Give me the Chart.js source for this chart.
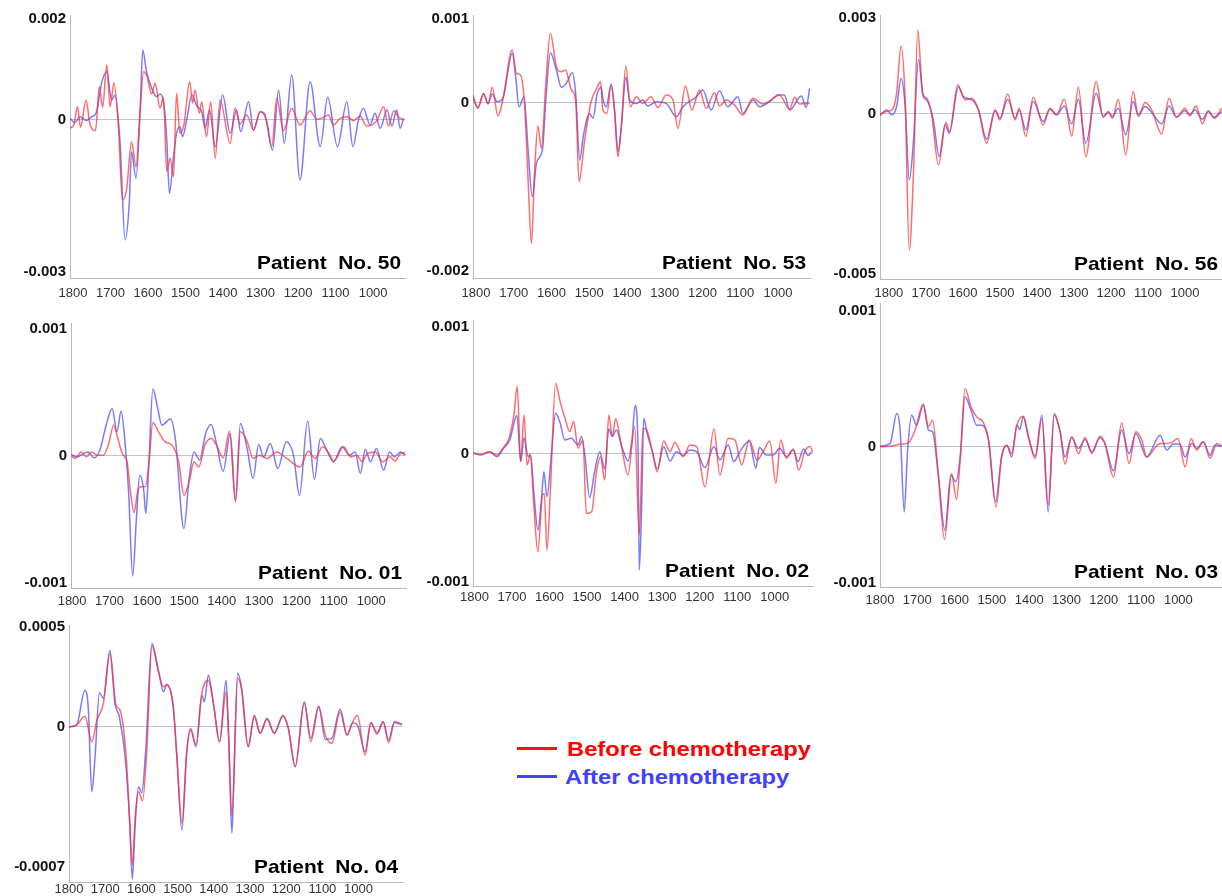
<!DOCTYPE html>
<html>
<head>
<meta charset="utf-8">
<script src="https://cdn.jsdelivr.net/npm/chart.js@4.4.1/dist/chart.umd.min.js"></script>
<style>
  body { margin: 0; width: 1222px; height: 896px; overflow: hidden; position: relative; background: #fff;
         font-family: "Liberation Sans", Arial, sans-serif; }
  canvas { position: absolute; }
  .key-line { position: absolute; width: 40px; height: 3px; }
  .key-text { position: absolute; font-weight: bold; font-size: 21px; line-height: 24px; white-space: nowrap;
              transform: scaleX(1.13); transform-origin: 0 50%; }
</style>
</head>
<body>
<div class="key-line" style="left:517px;top:747px;background:#ff1010"></div>
<div class="key-text" style="left:567px;top:737px;color:#ff0000">Before chemotherapy</div>
<div class="key-line" style="left:517px;top:775px;background:#4444ff"></div>
<div class="key-text" style="left:565px;top:765px;color:#4040ff">After chemotherapy</div>

<script>
// wavenumber tick labels (cm-1), shared by every panel
const waveTicks = [1800, 1700, 1600, 1500, 1400, 1300, 1200, 1100, 1000];

// y tick labels per panel
const no50YTicks = [0.002, 0, -0.003];
const no53YTicks = [0.001, 0, -0.002];
const no56YTicks = [0.003, 0, -0.005];
const no01YTicks = [0.001, 0, -0.001];
const no02YTicks = [0.001, 0, -0.001];
const no03YTicks = [0.001, 0, -0.001];
const no04YTicks = [0.0005, 0, -0.0007];

// ---- Patient No. 50 ----
const no50BeforeWn = [1808,1797,1788,1780,1765,1755,1740,1730,1721,1710,1701,1691,1679,1668,1657,1644,1632,1621,1612,1604,1590,1581,1568,1559,1550,1541,1532,1524,1515,1504,1489,1481,1475,1463,1457,1444,1433,1421,1408,1381,1368,1355,1337,1319,1301,1284,1270,1257,1239,1217,1195,1168,1150,1132,1119,1106,1088,1070,1052,1035,1017,990,972,959,945,932,917];
const no50Before = [-0.000165,-0.00008,0.000264,-0.000145,0.000396,-0.00008,-0.00021,0.00066,0.00025,0.001089,0.000264,0.00074,-0.000132,-0.001584,-0.00137,-0.000429,-0.000924,0.000198,0.000957,0.000891,0.000515,0.000726,0.000231,0.000449,-0.001023,-0.000759,-0.001122,0.000528,-0.000264,-0.00008,0.000759,0.00033,0.000594,0.000132,0.000363,-0.00033,0.000363,-0.000759,0.000396,-0.000462,0.000231,-0.00008,0.000099,-0.000198,0.000165,-0.000013,-0.000528,0.000429,-0.000211,0.000231,-0.000099,0.000185,0.000013,0.000053,0.000099,-0.000099,0.000033,0.000066,-0.000013,0.00008,-0.00012,-0.000013,0.000264,-0.00012,0.000185,0.000053,0];
const no50AfterWn = [1808,1795,1781,1765,1750,1737,1724,1710,1697,1688,1675,1661,1650,1644,1632,1621,1614,1604,1590,1577,1568,1557,1550,1543,1532,1524,1515,1508,1497,1483,1470,1457,1448,1436,1421,1401,1381,1364,1353,1332,1319,1301,1290,1268,1252,1237,1217,1195,1168,1141,1121,1095,1070,1054,1039,1026,1008,995,981,963,950,937,928,919];
const no50After = [0.000033,-0.00005,0.000066,-0.00001,0.000066,0.000165,0.000726,0.000957,0.000396,0.000495,-0.000396,-0.002376,-0.00165,-0.000627,-0.001155,0.000198,0.001386,0.000957,0.000627,0.000462,0.000515,0.000264,-0.000396,-0.001452,-0.000726,-0.000264,-0.000132,-0.00033,0,0.000495,0.000277,0.000165,-0.000165,0.000198,-0.000528,0.000495,-0.000264,0.000198,-0.000231,0.000363,-0.000198,0.000165,0.000132,-0.000594,0.000594,-0.000462,0.000891,-0.001188,0.000759,-0.000528,0.000449,-0.000528,0.000363,-0.000528,0,0.000231,-0.000099,0.000132,-0.000165,0.000198,-0.00012,0.000198,-0.000165,0.000033];

// ---- Patient No. 53 ----
const no53BeforeWn = [1808,1795,1780,1768,1757,1742,1729,1704,1693,1682,1671,1662,1653,1645,1636,1627,1615,1603,1587,1574,1563,1547,1536,1527,1512,1495,1479,1470,1464,1453,1442,1433,1424,1415,1403,1391,1375,1358,1336,1318,1296,1278,1265,1245,1228,1208,1190,1168,1155,1137,1115,1093,1066,1040,1018,996,969,956,943,930,916];
const no53Before = [0.000087,-0.000071,0.0001,-0.00002,0.000179,-0.000163,0.000028,0.000623,0.000345,0.000325,-0.000052,-0.000925,-0.001679,-0.000845,-0.000282,-0.000548,0.000226,0.000821,0.000425,0.000365,0.000385,0.000147,0.000028,-0.000944,-0.000448,0.000008,0.000179,0.000246,-0.000091,-0.000131,0.000218,-0.000091,-0.000647,-0.00029,0.000433,-0.000052,0.000067,-0.000012,0.000067,-0.00006,0.000087,0.000028,-0.00031,0.000194,-0.000091,0.000147,-0.000071,0.000115,-0.000044,0.000028,-0.000032,-0.000151,0.000048,-0.00002,0.000028,0.000087,-0.000083,0.00006,-0.00002,-0.000012,-0.000012];
const no53AfterWn = [1808,1795,1780,1768,1757,1744,1729,1704,1695,1686,1673,1662,1651,1640,1631,1623,1615,1603,1587,1574,1561,1545,1536,1525,1516,1499,1490,1479,1468,1464,1455,1442,1433,1424,1415,1403,1393,1375,1358,1345,1322,1296,1269,1252,1216,1199,1177,1155,1133,1106,1093,1066,1049,1022,1000,983,969,938,925,916];
const no53After = [0.000048,-0.00006,0.000107,-0.000012,0.0001,0.000008,0.000048,0.000583,0.000306,-0.000052,0.000067,-0.000567,-0.001123,-0.000726,-0.000647,-0.000528,0.000028,0.000591,0.000385,0.000179,0.000226,0.000353,0.000107,-0.000687,-0.000409,-0.000131,-0.00019,0.0001,0.000179,0.000048,-0.000052,0.000206,-0.000091,-0.000587,-0.00029,0.000298,0.000028,-0.000012,0.000028,-0.000044,0.000008,-0.000012,-0.000171,-0.000052,0.000067,0.000147,-0.000091,0.000139,-0.000052,0.000067,-0.000131,0.000028,-0.000052,0.000008,0.000087,0.000087,-0.000091,0.000075,-0.00006,0.000167];

// ---- Patient No. 56 ----
const no56BeforeWn = [1824,1806,1790,1779,1767,1756,1745,1733,1722,1709,1698,1685,1666,1646,1636,1614,1594,1576,1558,1536,1513,1500,1479,1459,1448,1430,1410,1383,1365,1347,1326,1306,1288,1268,1240,1221,1207,1196,1180,1160,1140,1126,1108,1090,1063,1043,1023,1000,987,970,953,937,921,901];
const no56Before = [0,0.000073,0.000146,0.000646,0.002125,0.00044,-0.00425,-0.001646,0.002625,0.000646,0.00049,0.00002,-0.001594,-0.00027,-0.000552,0.000906,0.00044,0.00049,0.000125,-0.000917,0.000104,-0.00019,0.000625,-0.00019,0.000177,-0.000708,0.00052,-0.000344,0.000177,-0.00003,0.000458,-0.000688,0.000833,-0.001333,0.00101,-0.000104,0.000042,-0.000135,0.000458,-0.00128,0.0007,-0.000083,0.000354,0.000125,-0.000625,0.00049,-0.000104,0.000177,-0.00006,0.00025,-0.00031,0.000094,-0.000135,0.000177];
const no56AfterWn = [1824,1806,1792,1779,1767,1756,1745,1734,1720,1707,1698,1680,1664,1648,1637,1612,1599,1576,1558,1536,1513,1500,1479,1459,1448,1430,1410,1383,1365,1347,1326,1306,1288,1268,1240,1221,1207,1196,1180,1160,1140,1126,1108,1090,1063,1043,1023,1000,987,973,953,937,921,901];
const no56After = [-0.00006,0.000125,-0.00003,0.00023,0.001115,0.00023,-0.00206,-0.00092,0.00169,0.00054,0.00044,-0.00019,-0.00133,-0.00034,-0.0006,0.00085,0.00054,0.00044,0.000125,-0.00079,0.000125,-0.000135,0.00046,-0.000135,0.000125,-0.0005,0.000385,-0.00024,0.000146,-0.00003,0.00025,-0.00031,0.00046,-0.00092,0.000646,-0.000083,0.000073,-0.000083,0.000177,-0.000656,0.000385,-0.00003,0.00023,0.000042,-0.00031,0.00025,-0.000104,0.000104,-0.00003,0.000125,-0.000167,0.000073,-0.000104,0.000073];

// ---- Patient No. 01 ----
const no01BeforeWn = [1803,1791,1776,1762,1749,1731,1716,1702,1689,1680,1666,1653,1644,1634,1625,1616,1604,1595,1584,1569,1551,1533,1515,1501,1487,1474,1461,1445,1428,1414,1396,1379,1363,1350,1332,1316,1299,1279,1253,1226,1190,1168,1150,1130,1110,1101,1074,1056,1038,1025,1011,989,969,949,936,922,909];
const no01Before = [0,-0.000021,0.000031,-0.000008,0.000031,0.000005,0.000005,0.000097,0.000241,0.000163,0.000018,-0.000047,-0.000283,-0.000446,-0.000283,-0.000244,-0.000244,-0.000073,0.000262,0.000189,0.00011,0.000084,-0.000047,-0.00031,-0.000205,-0.000047,-0.000087,0.000084,0.000136,0.000084,-0.000016,0.000194,-0.000362,0.000189,0.000115,-0.000021,0.000005,-0.000021,0.000031,-0.000021,-0.000087,0.000037,-0.000021,0.000071,0.000005,-0.000047,0.000071,-0.000008,0.000005,-0.000047,0.000018,0.000031,-0.000047,-0.000008,-0.000042,0.000018,0.000026];
const no01AfterWn = [1803,1787,1758,1741,1725,1709,1693,1680,1669,1658,1649,1638,1628,1619,1608,1603,1595,1584,1572,1560,1537,1524,1501,1487,1474,1459,1443,1428,1414,1396,1377,1363,1350,1332,1316,1301,1288,1270,1250,1227,1208,1192,1170,1152,1136,1123,1101,1078,1058,1043,1029,1016,1002,986,967,951,938,922,909];
const no01After = [0.00001,-0.000008,0.000031,-0.000016,0.000052,0.000241,0.000373,0.000189,0.000352,0.000084,-0.000283,-0.000945,-0.000493,-0.000152,-0.000283,-0.000454,-0.000073,0.000525,0.000386,0.000241,0.000289,0.000136,-0.000572,-0.000178,0.000031,-0.000034,0.000176,0.000247,0.000097,-0.000121,0.000176,-0.000357,0.000255,0.000058,-0.000178,0.000089,-0.000008,0.000097,-0.0001,0.00011,0.000005,-0.00031,0.000273,-0.000184,0.000136,0.000071,-0.000047,0.000071,0.000005,0.000031,-0.000139,0.000052,-0.000047,0.000058,-0.000113,0.000031,-0.000008,0.000031,0.000005];

// ---- Patient No. 02 ----
const no02BeforeWn = [1804,1782,1760,1740,1724,1708,1695,1686,1677,1668,1660,1651,1642,1631,1619,1614,1607,1598,1584,1573,1559,1546,1536,1524,1511,1502,1488,1475,1464,1453,1442,1433,1424,1409,1391,1373,1361,1351,1340,1328,1313,1296,1279,1266,1244,1226,1208,1186,1162,1146,1124,1106,1088,1068,1047,1031,1013,997,984,969,950,936,920,906,899];
const no02Before = [0.00001,-0.000003,0.000018,-0.000008,0.000045,0.000123,0.000306,0.000529,-0.00006,0.000306,-0.000086,-0.000008,-0.000401,-0.000767,-0.000322,-0.000309,-0.000754,-0.000296,0.000555,0.000424,0.00028,0.000175,0.000254,0.000045,0.00011,-0.000466,-0.000453,-0.000139,-0.000021,-0.000204,0.000306,0.000136,0.000275,0.000071,-0.000165,0.000215,-0.000636,0.000202,0.000181,0.000045,-0.000139,0.000102,0.000018,0.000092,-0.000021,0.000071,0.000058,-0.000257,0.000196,-0.000165,0.000123,0.00011,-0.000086,0.00011,-0.000047,0.000018,0.000102,-0.00023,0.00011,-0.000034,0.000039,-0.000126,0.000018,0.000058,0.000018];
const no02AfterWn = [1804,1782,1760,1740,1724,1706,1687,1677,1668,1657,1651,1642,1631,1622,1615,1607,1595,1584,1573,1559,1542,1524,1515,1506,1493,1480,1466,1453,1442,1433,1422,1406,1391,1380,1372,1364,1361,1355,1349,1340,1326,1313,1296,1279,1262,1244,1226,1208,1186,1162,1146,1124,1109,1093,1068,1050,1041,1022,1004,987,969,951,938,923,911,902];
const no02After = [0.000005,-0.000008,0.000018,-0.000021,0.000039,0.00011,0.000301,-0.00006,0.000128,-0.000021,-0.000003,-0.000296,-0.000597,-0.000374,-0.000139,-0.000335,0.000005,0.000319,0.000254,0.00011,0.000123,0.000071,0.000136,-0.000008,-0.000343,-0.000139,0.000018,-0.000118,0.000196,0.000136,0.000188,0.000045,-0.000055,0.000123,0.00038,0.000018,-0.000911,-0.000453,0.00028,0.000162,0.000018,-0.000118,0.000058,-0.000055,0.000018,-0.000013,0.000031,0.000018,-0.000107,0.000058,-0.000047,0.000071,-0.00006,0.000018,0.000102,-0.000113,0.00005,-0.000008,-0.000008,0.000045,-0.000021,0.000031,-0.00006,0.000039,-0.000013,0.000018];

// ---- Patient No. 03 ----
const no03BeforeWn = [1800,1773,1742,1724,1706,1684,1670,1659,1644,1627,1608,1595,1585,1572,1556,1536,1527,1509,1489,1474,1460,1447,1433,1416,1402,1384,1366,1349,1333,1317,1304,1286,1268,1250,1232,1210,1197,1174,1152,1132,1114,1098,1085,1049,1036,1020,1001,982,966,951,933,915,897,884];
const no03Before = [0,0.000005,0.00002,0.000029,0.000123,0.000314,0.000147,0.000196,-0.000196,-0.000681,-0.000196,-0.000387,-0.000098,0.000429,0.000294,0.000208,0.000196,0.000049,-0.000441,-0.000074,0.000012,-0.000049,0.000159,0.000225,0.000074,-0.000086,0.000208,-0.000429,0.000245,0.00011,-0.000127,0.000074,-0.000049,0.000069,-0.000049,0.000078,0.000025,-0.000221,0.000176,-0.000123,0.00011,0.000049,-0.000074,0.000025,0.000025,0.000029,0.000061,-0.000147,0.000061,-0.000025,0.000037,-0.000086,0.000025,0.000005];
const no03AfterWn = [1800,1773,1755,1746,1735,1726,1715,1702,1684,1670,1659,1644,1626,1610,1597,1585,1572,1556,1541,1527,1509,1490,1474,1460,1447,1433,1425,1416,1402,1384,1366,1349,1333,1317,1304,1286,1268,1250,1232,1210,1197,1174,1152,1132,1114,1085,1049,1031,1014,996,982,964,951,933,915,902,884];
const no03After = [0.000005,0.000025,0.000245,0.000123,-0.000478,-0.000025,0.000233,0.000159,0.000306,0.000123,0.00011,-0.000196,-0.000613,-0.000208,-0.000257,-0.000074,0.000368,0.00027,0.000159,0.000159,0.000049,-0.000404,-0.000074,0.000012,-0.000074,0.000159,0.000127,0.000221,0.000074,-0.000069,0.000233,-0.000478,0.000233,0.00011,-0.000074,0.000069,-0.000012,0.000054,-0.000037,0.000069,0.000025,-0.000176,0.000123,-0.000049,0.000098,-0.000074,0.000086,-0.000025,0.00002,0.00002,-0.000074,0.000025,-0.000012,0.000037,-0.000061,0.000012,0.000005];

// ---- Patient No. 04 ----
const no04BeforeWn = [1800,1779,1756,1737,1723,1705,1687,1670,1659,1642,1633,1625,1617,1608,1597,1585,1571,1553,1539,1530,1512,1502,1488,1475,1464,1449,1433,1415,1401,1384,1366,1359,1350,1334,1323,1305,1288,1272,1253,1233,1209,1194,1175,1150,1132,1110,1092,1074,1051,1032,1016,1003,982,966,949,932,917,901,880];
const no04Before = [0,0.000008,0.000053,-0.000075,0.000033,0.000117,0.000367,0.000108,0.000083,-0.00015,-0.00045,-0.000692,-0.00045,-0.000325,-0.00037,-0.000117,0.000408,0.000275,0.0002,0.000208,0.0001,-0.00015,-0.000483,-0.000133,-0.000008,-0.000092,0.000167,0.000233,0.000117,-0.000075,0.000175,-0.00005,-0.00045,0.000242,0.000183,-0.0001,0.00005,-0.000033,0.000037,-0.000033,0.000058,-0.000008,-0.0002,0.000125,-0.000075,0.0001,-0.000042,-0.000083,0.000075,-0.000042,0.000025,0.000058,-0.000142,0.00002,-0.000037,0.000025,-0.00008,0.00002,0.000008];
const no04AfterWn = [1800,1779,1756,1747,1737,1728,1716,1705,1687,1673,1661,1645,1633,1625,1617,1608,1599,1588,1571,1553,1539,1530,1512,1502,1488,1475,1464,1449,1433,1426,1415,1401,1384,1366,1359,1350,1346,1334,1323,1305,1288,1272,1253,1233,1209,1194,1175,1150,1132,1110,1092,1074,1051,1032,1016,1003,982,966,949,932,917,901,880];
const no04After = [0,0.000008,0.000183,0.0001,-0.000325,-0.00015,0.00017,0.000142,0.000383,0.000117,0.00005,-0.00015,-0.00045,-0.000763,-0.000483,-0.0003,-0.00033,-0.000117,0.000417,0.000283,0.000175,0.000213,0.0001,-0.00015,-0.000517,-0.000133,-0.000017,-0.0001,0.000158,0.000125,0.000258,0.000117,-0.000075,0.000233,-0.00005,-0.000533,-0.00035,0.000267,0.000192,-0.0001,0.000058,-0.000033,0.000042,-0.000033,0.000053,-0.000008,-0.0002,0.00012,-0.000058,0.000103,-0.000063,-0.000058,0.000087,-0.000042,0.00002,0.000008,-0.000125,0.00002,-0.00003,0.000025,-0.000067,0.000025,0.000013];

// panel layout: plot box in page pixels, axis extents, gap under the x axis
const panels = [
  { title: 'Patient  No. 50', before: [no50BeforeWn, no50Before], after: [no50AfterWn, no50After], yTicks: no50YTicks,
    box: { axis: 70, top: 15, right: 405, bottom: 278 }, x: [915, 1808], y: [-0.00313, 0.00208], xPad: 8 },
  { title: 'Patient  No. 53', before: [no53BeforeWn, no53Before], after: [no53AfterWn, no53After], yTicks: no53YTicks,
    box: { axis: 473, top: 15, right: 810, bottom: 278 }, x: [915, 1808], y: [-0.00209, 0.00104], xPad: 8 },
  { title: 'Patient  No. 56', before: [no56BeforeWn, no56Before], after: [no56AfterWn, no56After], yTicks: no56YTicks,
    box: { axis: 880, top: 15, right: 1222, bottom: 279 }, x: [900, 1824], y: [-0.00516, 0.00309], xPad: 7 },
  { title: 'Patient  No. 01', before: [no01BeforeWn, no01Before], after: [no01AfterWn, no01After], yTicks: no01YTicks,
    box: { axis: 71, top: 323, right: 406, bottom: 588 }, x: [907, 1803], y: [-0.00104, 0.001045], xPad: 6 },
  { title: 'Patient  No. 02', before: [no02BeforeWn, no02Before], after: [no02AfterWn, no02After], yTicks: no02YTicks,
    box: { axis: 473, top: 320, right: 813, bottom: 586 }, x: [898, 1804], y: [-0.001035, 0.00105], xPad: 4 },
  { title: 'Patient  No. 03', before: [no03BeforeWn, no03Before], after: [no03AfterWn, no03After], yTicks: no03YTicks,
    box: { axis: 880, top: 303, right: 1222, bottom: 587 }, x: [883, 1800], y: [-0.00103, 0.001057], xPad: 6 },
  { title: 'Patient  No. 04', before: [no04BeforeWn, no04Before], after: [no04AfterWn, no04After], yTicks: no04YTicks,
    box: { axis: 69, top: 625, right: 402, bottom: 882 }, x: [880, 1800], y: [-0.000777, 0.000509], xPad: 0 }
];

const FONT = '"Liberation Sans", Arial, sans-serif';
const Y_W = 58, PAD_T = 14, X_H = 24, PAD_R = 2;

const toPoints = (wn, ab) => wn.map((x, i) => ({ x: x, y: ab[i] }));

// "Patient No. xx" label in the lower right of the plot
const panelTitle = {
  id: 'panelTitle',
  afterDatasetsDraw(chart, args, opts) {
    const { ctx, chartArea } = chart;
    ctx.save();
    ctx.font = 'bold 19px ' + FONT;
    ctx.fillStyle = '#000';
    ctx.textAlign = 'right';
    ctx.textBaseline = 'middle';
    ctx.translate(chartArea.right - 4, chartArea.bottom - 14);
    ctx.scale(1.1, 1);
    ctx.fillText(opts.text, 0, 0);
    ctx.restore();
  }
};

panels.forEach(p => {
  const w = p.box.right - p.box.axis + Y_W + PAD_R;
  const h = p.box.bottom - p.box.top + PAD_T + X_H;
  const cv = document.createElement('canvas');
  cv.width = w;
  cv.height = h;
  cv.style.width = w + 'px';
  cv.style.height = h + 'px';
  cv.style.left = (p.box.axis - Y_W) + 'px';
  cv.style.top = (p.box.top - PAD_T) + 'px';
  document.body.appendChild(cv);

  new Chart(cv, {
    type: 'line',
    data: {
      datasets: [
        { label: 'Before chemotherapy', data: toPoints(p.before[0], p.before[1]),
          borderColor: 'rgba(255,45,45,0.7)', borderWidth: 1.5, pointRadius: 0, cubicInterpolationMode: 'monotone' },
        { label: 'After chemotherapy', data: toPoints(p.after[0], p.after[1]),
          borderColor: 'rgba(70,70,255,0.72)', borderWidth: 1.5, pointRadius: 0, cubicInterpolationMode: 'monotone' }
      ]
    },
    options: {
      responsive: false,
      animation: false,
      devicePixelRatio: 1,
      layout: { padding: { top: PAD_T, right: PAD_R, left: 0, bottom: 0 } },
      plugins: {
        legend: { display: false },
        tooltip: { enabled: false },
        panelTitle: { text: p.title }
      },
      scales: {
        x: {
          type: 'linear',
          reverse: true,
          min: p.x[0],
          max: p.x[1],
          afterBuildTicks: s => { s.ticks = waveTicks.map(v => ({ value: v })); },
          afterFit: s => { s.height = X_H; },
          grid: { display: false, drawTicks: false },
          border: { display: true, color: '#b8b8b8', width: 1 },
          ticks: { padding: p.xPad, color: '#333', autoSkip: false, maxRotation: 0,
                   font: { family: FONT, size: 13 }, callback: v => String(v) }
        },
        y: {
          min: p.y[0],
          max: p.y[1],
          afterBuildTicks: s => { s.ticks = p.yTicks.map(v => ({ value: v })); },
          afterFit: s => { s.width = Y_W; },
          grid: { drawTicks: false, lineWidth: 1,
                  color: c => (c.tick && c.tick.value === 0) ? '#c4c4c4' : 'rgba(0,0,0,0)' },
          border: { display: true, color: '#b8b8b8', width: 1 },
          ticks: { padding: 4, color: '#111', autoSkip: false,
                   font: { family: FONT, size: 15, weight: 'bold' }, callback: v => String(v) }
        }
      }
    },
    plugins: [panelTitle]
  });
});
</script>
</body>
</html>
